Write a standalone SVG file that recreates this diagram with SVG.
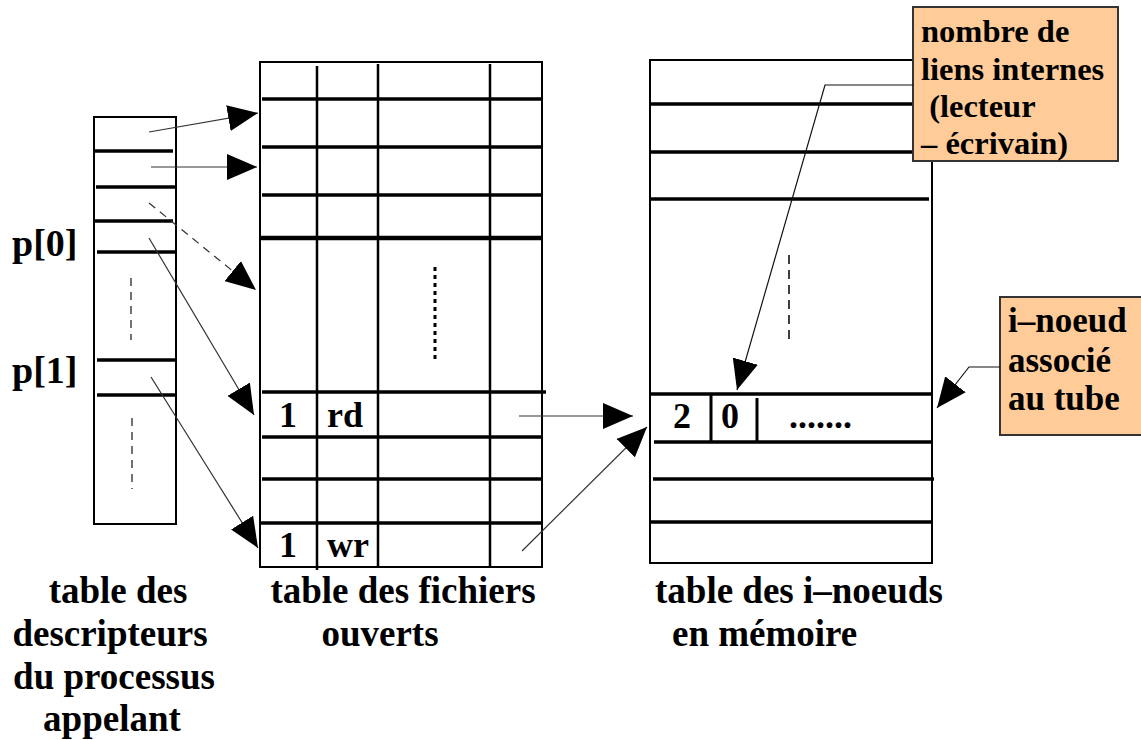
<svg xmlns="http://www.w3.org/2000/svg" width="1141" height="740" viewBox="0 0 1141 740">
<style>
.bg{fill:#fff}
.frame{fill:none;stroke:#000;stroke-width:2}
.row{stroke:#000;stroke-width:3.5}
.col{stroke:#000;stroke-width:2.5}
.dash{stroke:#444;stroke-width:1.5;stroke-dasharray:8 6}
.dot{stroke:#000;stroke-width:3;stroke-dasharray:4 4}
.t{font-family:"Liberation Serif","Times New Roman",serif;font-weight:bold;fill:#000}
.lbl{font-size:37px}
.cell{font-size:36px}
.pp{font-size:38px}
.n1{font-size:32.5px}
.n2{font-size:35px}
.note{fill:#FFCC99;stroke:#333;stroke-width:2}
.arr{stroke:#333;stroke-width:1.2;fill:none;marker-end:url(#ah)}
.arrd{stroke:#333;stroke-width:1.2;fill:none;stroke-dasharray:8 6;marker-end:url(#ah)}
.lead{stroke:#111;stroke-width:1.2;fill:none;marker-end:url(#ah)}
</style>
<defs>
<marker id="ah" markerUnits="userSpaceOnUse" markerWidth="30" markerHeight="26" viewBox="0 0 30 26" refX="30" refY="13" orient="auto">
<path d="M0,0 L30,13 L0,26 z" fill="#000"/>
</marker>
</defs>
<rect class="bg" x="0" y="0" width="1141" height="740"/>

<g id="desc-table">
<rect class="frame" x="94" y="117" width="82" height="407"/>
<line class="row" x1="95" y1="151" x2="173" y2="151"/>
<line class="row" x1="96" y1="187" x2="176" y2="187"/>
<line class="row" x1="95" y1="221" x2="173" y2="221"/>
<line class="row" x1="97" y1="252" x2="176" y2="252"/>
<line class="row" x1="97" y1="360" x2="176" y2="360"/>
<line class="row" x1="97" y1="395" x2="176" y2="395"/>
<line class="dash" x1="131" y1="278" x2="131" y2="340"/>
<line class="dash" x1="132" y1="418" x2="132" y2="489"/>
<text class="t pp" x="12" y="256">p[0]</text>
<text class="t pp" x="12" y="383">p[1]</text>
</g>

<g id="files-table">
<rect class="frame" x="260" y="62" width="282" height="505"/>
<line class="col" x1="317" y1="66" x2="317" y2="570"/>
<line class="col" x1="378" y1="64" x2="378" y2="567"/>
<line class="col" x1="490" y1="64" x2="490" y2="567"/>
<line class="row" x1="262" y1="99" x2="542" y2="99"/>
<line class="row" x1="262" y1="147" x2="542" y2="147"/>
<line class="row" x1="262" y1="195" x2="542" y2="195"/>
<line class="row" x1="260" y1="238" x2="542" y2="238" style="stroke-width:4.5"/>
<line class="row" x1="262" y1="392" x2="546" y2="392"/>
<line class="row" x1="262" y1="437" x2="542" y2="437"/>
<line class="row" x1="262" y1="479" x2="542" y2="479"/>
<line class="row" x1="260" y1="523" x2="542" y2="523"/>
<line class="dot" x1="435" y1="267" x2="435" y2="363"/>
<text class="t cell" x="288" y="427" text-anchor="middle">1</text>
<text class="t cell" x="327" y="427">rd</text>
<text class="t cell" x="288" y="557" text-anchor="middle">1</text>
<text class="t cell" x="327" y="557">wr</text>
</g>

<g id="inodes-table">
<rect class="frame" x="650" y="60" width="282" height="503"/>
<line class="row" x1="651" y1="104" x2="932" y2="104"/>
<line class="row" x1="651" y1="152" x2="932" y2="152"/>
<line class="row" x1="651" y1="199" x2="929" y2="199"/>
<line class="row" x1="651" y1="394" x2="931" y2="394"/>
<line class="row" x1="654" y1="442" x2="932" y2="442"/>
<line class="row" x1="653" y1="479" x2="934" y2="479"/>
<line class="row" x1="651" y1="522" x2="932" y2="522"/>
<line class="col" x1="711" y1="395" x2="711" y2="442" style="stroke-width:3"/>
<line class="col" x1="757" y1="398" x2="757" y2="442" style="stroke-width:3"/>
<line class="dash" x1="789" y1="255" x2="789" y2="342" style="stroke:#000;stroke-dasharray:9 6"/>
<text class="t cell" x="682" y="428" text-anchor="middle">2</text>
<text class="t cell" x="730" y="428" text-anchor="middle">0</text>
<text class="t cell" x="789" y="428">.......</text>
</g>

<g id="note-liens">
<rect class="note" x="913" y="7" width="205" height="154"/>
<text class="t n1" x="921" y="42">nombre de</text>
<text class="t n1" x="921" y="80">liens internes</text>
<text class="t n1" x="921" y="117" xml:space="preserve"> (lecteur</text>
<text class="t n1" x="921" y="154">– écrivain)</text>
</g>

<g id="note-inode">
<rect class="note" x="1000" y="297" width="145" height="138"/>
<text class="t n2" x="1008" y="332">i–noeud</text>
<text class="t n2" x="1008" y="372">associé</text>
<text class="t n2" x="1008" y="410">au tube</text>
</g>

<g id="labels">
<text class="t lbl" x="118" y="603" text-anchor="middle">table des</text>
<text class="t lbl" x="110" y="646" text-anchor="middle">descripteurs</text>
<text class="t lbl" x="114" y="689" text-anchor="middle">du processus</text>
<text class="t lbl" x="112" y="731" text-anchor="middle">appelant</text>
<text class="t lbl" x="403" y="603" text-anchor="middle">table des fichiers</text>
<text class="t lbl" x="380" y="646" text-anchor="middle">ouverts</text>
<text class="t lbl" x="655" y="603">table des i–noeuds</text>
<text class="t lbl" x="672" y="646">en mémoire</text>
</g>

<g id="connectors">
<line class="arr" x1="149" y1="132" x2="258" y2="113"/>
<line class="arr" x1="151" y1="167" x2="257" y2="167"/>
<line class="arrd" x1="149" y1="203" x2="256" y2="290"/>
<line class="arr" x1="149" y1="238" x2="254" y2="415"/>
<line class="arr" x1="151" y1="377" x2="258" y2="548"/>
<line class="arr" x1="519" y1="416" x2="633" y2="416"/>
<line class="arr" x1="522" y1="551" x2="647" y2="427"/>
<polyline class="lead" points="913,85 825,85 737,390"/>
<polyline class="lead" points="1000,367 969,367 937,408"/>
</g>
</svg>
